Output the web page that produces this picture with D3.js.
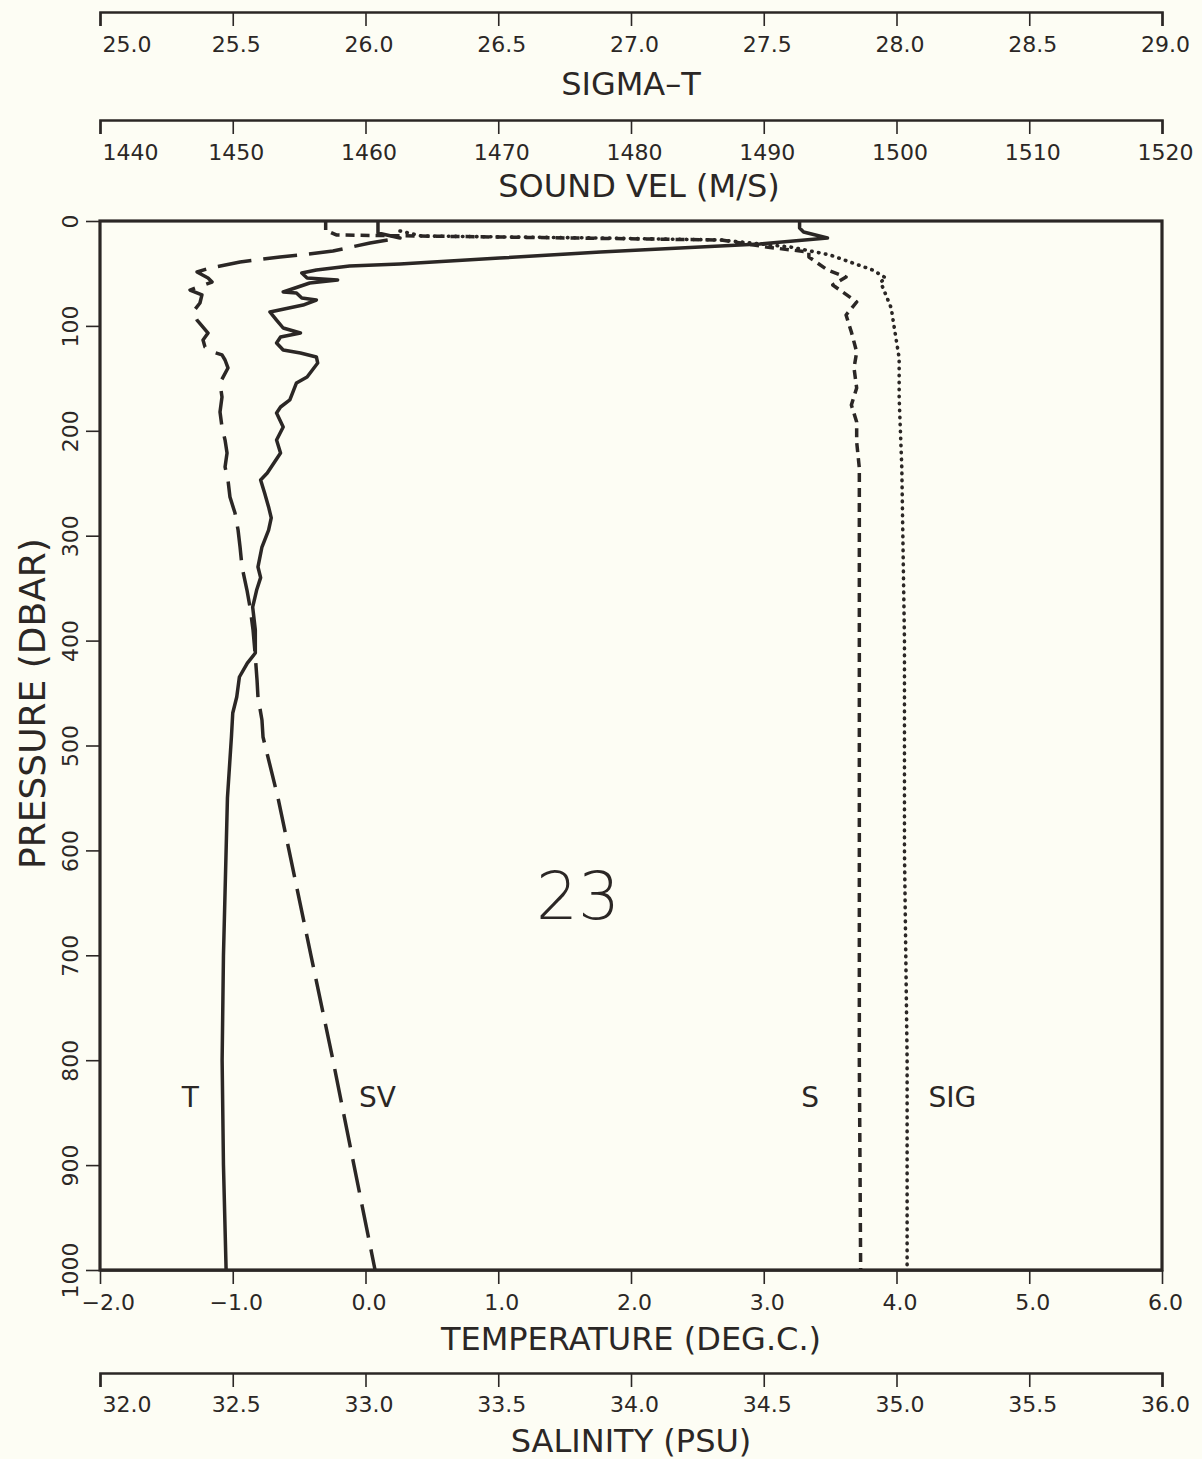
<!DOCTYPE html>
<meta charset="utf-8">
<style>

body {
  margin: 0;
  background: #fdfdf4;
}

text {
  font-family: 'DejaVu Sans', sans-serif;
  fill: #2b2725;
}

.axis path, .axis line {
  stroke: #2b2725;
}

.tickLabel {
  font-size: 22px;
}

.axisLabel {
  font-size: 32px;
}

.seriesLabel {
  font-size: 28px;
}

.profile {
  fill: none;
  stroke: #2b2725;
  stroke-width: 3.5;
  stroke-linejoin: round;
}

.sv {
  stroke-dasharray: 34 12;
}

.sal {
  stroke-dasharray: 9 6;
}

.sig {
  stroke-dasharray: 0.5 6.5;
  stroke-linecap: round;
  stroke-width: 3.6;
}

</style>
<svg width="1202" height="1459"></svg>
<script src="https://d3js.org/d3.v7.min.js"></script>
<script>

// tick values of the five axes
var sigmaTicks = [25.0, 25.5, 26.0, 26.5, 27.0, 27.5, 28.0, 28.5, 29.0];
var soundTicks = [1440, 1450, 1460, 1470, 1480, 1490, 1500, 1510, 1520];
var tempTicks = [-2, -1, 0, 1, 2, 3, 4, 5, 6];
var salTicks = [32.0, 32.5, 33.0, 33.5, 34.0, 34.5, 35.0, 35.5, 36.0];
var pressureTicks = [0, 100, 200, 300, 400, 500, 600, 700, 800, 900, 1000];

// profiles, [pressure (dbar), value]
var temperature = [[0,3.27],[6.7,3.27],[10.5,3.30],[16.2,3.48],[21.9,2.97],[24.8,2.52],[29.6,1.77],[35.3,1.01],
  [41,0.26],[42.9,-0.12],[46.7,-0.37],[49.6,-0.48],[54.3,-0.44],[56.2,-0.21],[59.1,-0.42],[67.7,-0.62],
  [68.6,-0.52],[73.4,-0.48],[75.3,-0.37],[80.1,-0.47],[86.7,-0.72],[94.4,-0.67],[102,-0.62],[106.8,-0.49],
  [110.6,-0.64],[116.3,-0.67],[123,-0.62],[125.8,-0.49],[129.6,-0.37],[135.4,-0.36],[142,-0.40],[148.7,-0.44],
  [154.4,-0.52],[164,-0.55],[170.6,-0.57],[177.3,-0.64],[183,-0.67],[196.4,-0.62],[208.8,-0.67],[221.2,-0.64],
  [240.2,-0.74],[246.9,-0.79],[259.3,-0.76],[272.6,-0.73],[283,-0.71],[294.6,-0.73],[310.8,-0.78],[329.8,-0.81],
  [340,-0.79],[351.8,-0.82],[368,-0.85],[389.9,-0.83],[411.8,-0.83],[421.4,-0.89],[434.7,-0.95],[453.8,-0.97],
  [469,-1.00],[491.9,-1.01],[550,-1.04],[600,-1.05],[700,-1.07],[800,-1.08],[900,-1.07],[1000,-1.05]];

var soundVel = [[1,1460.94],[11.4,1460.94],[16.2,1462.6],[21,1460.34],[28.6,1457.55],[32.4,1455.07],
  [34.3,1453.56],[39.1,1450.55],[44.8,1448.29],[48.6,1447.31],[54.3,1448.14],[58.2,1448.44],[65.8,1446.78],
  [70.5,1447.68],[78.2,1447.53],[86.7,1447.01],[94.4,1447.31],[101.1,1447.76],[106.8,1448.14],[113.4,1447.76],
  [120.1,1447.91],[124.9,1448.51],[127.7,1449.19],[132.5,1449.42],[140.1,1449.64],[154.4,1449.04],
  [167.8,1449.19],[182.1,1449.04],[196.4,1449.19],[208.8,1449.42],[221.2,1449.57],[234.5,1449.42],
  [246.9,1449.64],[263.1,1449.79],[278.4,1450.17],[294.6,1450.4],[310.8,1450.55],[329.8,1450.7],
  [351.8,1451.07],[368,1451.3],[389.9,1451.53],[411.8,1451.68],[437.6,1451.83],[453.8,1451.9],
  [475.7,1452.2],[491.9,1452.28],[550,1453.41],[600,1454.24],[700,1455.89],[800,1457.55],[900,1459.13],
  [1000,1460.72]];

var salinity = [[0,32.85],[8.6,32.85],[13.3,32.89],[15.3,33.51],[18.1,34.34],[24.8,34.51],[29.6,34.67],
  [34.3,34.67],[46.7,34.74],[53.4,34.81],[61,34.76],[77.2,34.85],[89.6,34.81],[105.8,34.83],[124.9,34.85],
  [140.1,34.84],[159.2,34.85],[175.4,34.83],[191.6,34.85],[210.7,34.85],[235.5,34.86],[400,34.86],
  [600,34.86],[800,34.86],[1000,34.865]];

var sigmaT = [[9.5,26.13],[14.3,26.21],[16.2,26.88],[18.1,27.34],[24.8,27.6],[32.4,27.75],[46.7,27.91],
  [54.3,27.96],[58.2,27.94],[70.5,27.96],[82.9,27.98],[99.1,27.99],[130.6,28.01],[168.7,28.01],
  [235.5,28.02],[400,28.03],[600,28.03],[800,28.04],[1000,28.04]];

var svg = d3.select("svg"),
    plotLeft = 100,
    plotRight = 1162,
    plotTop = 221,
    plotBottom = 1270,
    plotMid = (plotLeft + plotRight) / 2;

var tempScale = d3.scaleLinear().domain([-2, 6]).range([plotLeft, plotRight]),
    salScale = d3.scaleLinear().domain([32, 36]).range([plotLeft, plotRight]),
    sigmaScale = d3.scaleLinear().domain([25, 29]).range([plotLeft, plotRight]),
    soundScale = d3.scaleLinear().domain([1440, 1520]).range([plotLeft, plotRight]),
    pressureScale = d3.scaleLinear().domain([0, 1000]).range([plotTop, plotBottom]);

svg.append("rect")
    .attr("width", 1202)
    .attr("height", 1459)
    .attr("fill", "#fdfdf4");

// horizontal axes, all with ticks hanging down and labels underneath
function drawAxis(scale, ticks, fmt, yPos, labelY, outer) {
  var g = svg.append("g")
      .attr("class", "axis")
      .attr("transform", "translate(0," + yPos + ")")
      .call(d3.axisBottom(scale).tickValues(ticks).tickFormat(fmt).tickSize(14).tickSizeOuter(outer));

  g.select(".domain").attr("stroke-width", 2.6);
  g.selectAll(".tick line").attr("stroke-width", 1.6);
  g.selectAll(".tick text")
      .attr("class", "tickLabel")
      .attr("y", labelY)
      .attr("dy", "0.35em")
      .attr("x", 3);

  // first label sits to the right of its tick
  g.selectAll(".tick text").filter(function(d, i) { return i === 0; })
      .attr("text-anchor", "start")
      .attr("x", function(d) { return d < 0 ? -19 : 2; });
  return g;
}

drawAxis(sigmaScale, sigmaTicks, d3.format(".1f"), 12, 32, 14);
drawAxis(soundScale, soundTicks, d3.format("d"), 120, 32, 14);
drawAxis(tempScale, tempTicks, d3.format(".1f"), plotBottom, 32, 0);
drawAxis(salScale, salTicks, d3.format(".1f"), 1373, 31, 14);

// pressure axis
var yAxis = svg.append("g")
    .attr("class", "axis")
    .attr("transform", "translate(" + plotLeft + ",0)")
    .call(d3.axisLeft(pressureScale).tickValues(pressureTicks).tickFormat(d3.format("d")).tickSize(14).tickSizeOuter(0));

yAxis.select(".domain").remove();
yAxis.selectAll(".tick line").attr("stroke-width", 1.6);
yAxis.selectAll(".tick text")
    .attr("class", "tickLabel")
    .attr("x", null)
    .attr("dy", "0.35em")
    .attr("text-anchor", "middle")
    .attr("transform", "translate(-30,0) rotate(-90)");

// plot frame
svg.append("rect")
    .attr("x", plotLeft)
    .attr("y", plotTop)
    .attr("width", plotRight - plotLeft)
    .attr("height", plotBottom - plotTop)
    .attr("fill", "none")
    .attr("stroke", "#2b2725")
    .attr("stroke-width", 3.2);

// axis titles
svg.append("text").attr("class", "axisLabel").attr("x", plotMid).attr("y", 84)
    .attr("dy", "0.35em").attr("text-anchor", "middle").text("SIGMA\u2013T");
svg.append("text").attr("class", "axisLabel").attr("x", plotMid + 8).attr("y", 186)
    .attr("dy", "0.35em").attr("text-anchor", "middle").text("SOUND VEL (M/S)");
svg.append("text").attr("class", "axisLabel").attr("x", plotMid).attr("y", 1339)
    .attr("dy", "0.35em").attr("text-anchor", "middle").text("TEMPERATURE (DEG.C.)");
svg.append("text").attr("class", "axisLabel").attr("x", plotMid).attr("y", 1441)
    .attr("dy", "0.35em").attr("text-anchor", "middle").text("SALINITY (PSU)");
svg.append("text").attr("class", "axisLabel")
    .attr("transform", "translate(32," + pressureScale(460) + ") rotate(-90)")
    .attr("dy", "0.35em").attr("text-anchor", "middle")
    .style("font-size", "36px")
    .text("PRESSURE (DBAR)");

// profiles
function profileLine(xScale) {
  return d3.line()
      .x(function(d) { return xScale(d[1]); })
      .y(function(d) { return pressureScale(d[0]); });
}

svg.append("path").datum(temperature).attr("class", "profile temp").attr("d", profileLine(tempScale));
svg.append("path").datum(soundVel).attr("class", "profile sv").attr("d", profileLine(soundScale));
svg.append("path").datum(salinity).attr("class", "profile sal").attr("d", profileLine(salScale));
svg.append("path").datum(sigmaT).attr("class", "profile sig").attr("d", profileLine(sigmaScale));

// curve labels and station number
var labelPressure = 835;
svg.append("text").attr("class", "seriesLabel").attr("x", tempScale(-1.32)).attr("y", pressureScale(labelPressure))
    .attr("dy", "0.35em").attr("text-anchor", "middle").text("T");
svg.append("text").attr("class", "seriesLabel").attr("x", tempScale(0.09)).attr("y", pressureScale(labelPressure))
    .attr("dy", "0.35em").attr("text-anchor", "middle").text("SV");
svg.append("text").attr("class", "seriesLabel").attr("x", tempScale(3.35)).attr("y", pressureScale(labelPressure))
    .attr("dy", "0.35em").attr("text-anchor", "middle").text("S");
svg.append("text").attr("class", "seriesLabel").attr("x", tempScale(4.42)).attr("y", pressureScale(labelPressure))
    .attr("dy", "0.35em").attr("text-anchor", "middle").text("SIG");

svg.append("text")
    .attr("x", tempScale(1.6))
    .attr("y", pressureScale(643))
    .attr("dy", "0.35em")
    .attr("text-anchor", "middle")
    .style("font-size", "66px")
    .style("font-weight", "300")
    .text("23");

</script>
